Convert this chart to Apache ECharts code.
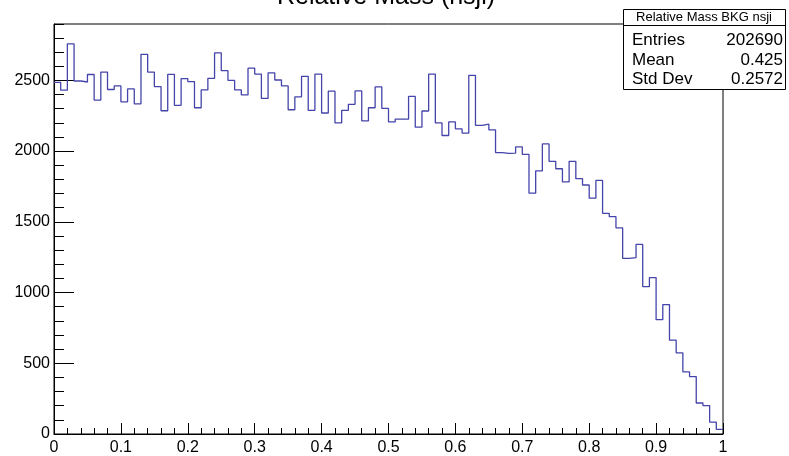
<!DOCTYPE html>
<html>
<head>
<meta charset="utf-8">
<script src="https://cdn.jsdelivr.net/npm/echarts@6/dist/echarts.min.js"></script>
<style>
  html, body { margin: 0; padding: 0; background: #fff; }
  #chart { width: 789px; height: 456px; }
</style>
</head>
<body>
<div id="chart"></div>
<script>
// Histogram: 100 bins over [0, 1]
const xMin = 0;
const xMax = 1;
const binWidth = 0.01;
const counts = [
  2485, 2430, 2758, 2495, 2488, 2541, 2360, 2558, 2435, 2460,
  2348, 2439, 2334, 2684, 2558, 2456, 2285, 2542, 2323, 2512,
  2491, 2306, 2432, 2514, 2694, 2568, 2500, 2432, 2397, 2586,
  2544, 2372, 2553, 2502, 2460, 2292, 2383, 2528, 2288, 2544,
  2269, 2423, 2199, 2288, 2330, 2425, 2213, 2306, 2453, 2301,
  2206, 2225, 2225, 2386, 2169, 2283, 2544, 2199, 2110, 2206,
  2157, 2127, 2535, 2182, 2190, 2150, 1989, 1984, 1986, 2029,
  1977, 1702, 1860, 2050, 1927, 1875, 1782, 1927, 1805, 1760,
  1667, 1792, 1560, 1536, 1457, 1242, 1246, 1340, 1041, 1106,
  808, 915, 663, 574, 439, 406, 219, 201, 84, 33
];
const yMax = 2898;
const xTickLabels = ['0', '0.1', '0.2', '0.3', '0.4', '0.5', '0.6', '0.7', '0.8', '0.9', '1'];

// Stats box contents
const histTitle = 'Relative Mass (nsji)';
const statsName = 'Relative Mass BKG nsji';
const statsRows = [
  ['Entries', '202690'],
  ['Mean', '0.425'],
  ['Std Dev', '0.2572']
];

// Step outline: one point per bin low edge, plus the closing upper edge
const stepData = counts.map((c, i) => [xMin + i * binWidth, c]);
stepData.push([xMax, counts[counts.length - 1]]);

const FONT = '"Liberation Sans", Arial, Helvetica, sans-serif';

const chart = echarts.init(document.getElementById('chart'), null, { renderer: 'canvas' });

const statsGraphics = [
  {
    type: 'rect', left: 623, top: 9, z: 100,
    shape: { width: 162, height: 80 },
    style: { fill: '#fff', stroke: '#000', lineWidth: 1 }
  },
  {
    type: 'line', z: 101,
    shape: { x1: 623, y1: 25.5, x2: 785, y2: 25.5 },
    style: { stroke: '#000', lineWidth: 1 }
  },
  {
    type: 'text', z: 101, x: 704, y: 17.5,
    style: { text: statsName, font: '13px ' + FONT, fill: '#000', textAlign: 'center', textVerticalAlign: 'middle' }
  }
];
const rowY = [40, 60, 79.5];
statsRows.forEach((r, i) => {
  statsGraphics.push({
    type: 'text', z: 101, x: 632, y: rowY[i],
    style: { text: r[0], font: '17px ' + FONT, fill: '#000', textAlign: 'left', textVerticalAlign: 'middle' }
  });
  statsGraphics.push({
    type: 'text', z: 101, x: 783, y: rowY[i],
    style: { text: r[1], font: '17px ' + FONT, fill: '#000', textAlign: 'right', textVerticalAlign: 'middle' }
  });
});

const option = {
  animation: false,
  backgroundColor: '#fff',
  grid: {
    left: 54, right: 66, top: 24, bottom: 18,
    show: true, borderColor: '#000', borderWidth: 1, backgroundColor: 'transparent'
  },
  xAxis: {
    type: 'value', min: xMin, max: xMax, interval: 0.1,
    axisLine: { show: true, lineStyle: { color: '#000', width: 1 } },
    axisTick: { show: true, inside: true, length: 11, lineStyle: { color: '#000' } },
    minorTick: { show: true, splitNumber: 5, length: 6, lineStyle: { color: '#000' } },
    axisLabel: {
      color: '#000', fontFamily: FONT, fontSize: 16, margin: 6,
      formatter: (v) => xTickLabels[Math.round(v * 10)]
    },
    splitLine: { show: false }
  },
  yAxis: [
    {
      type: 'value', min: 0, max: yMax, interval: 500, position: 'left',
      axisLine: { show: true, lineStyle: { color: '#000', width: 1 } },
      axisTick: { show: true, inside: true, length: 20, lineStyle: { color: '#000' } },
      axisLabel: {
        color: '#000', fontFamily: FONT, fontSize: 16, margin: 4, showMaxLabel: false,
        formatter: (v) => String(v)
      },
      splitLine: { show: false }
    },
    {
      type: 'value', min: 0, max: yMax, interval: 100, position: 'left',
      axisLine: { show: false },
      axisTick: { show: true, inside: true, length: 10, lineStyle: { color: '#000' } },
      axisLabel: { show: false },
      splitLine: { show: false }
    }
  ],
  graphic: [
    {
      type: 'text', x: 386, y: 10, z: 50,
      style: { text: histTitle, font: '25px ' + FONT, fill: '#000', textAlign: 'center', textVerticalAlign: 'bottom' }
    }
  ].concat(statsGraphics),
  series: [
    {
      type: 'line',
      data: stepData,
      step: 'end',
      showSymbol: false,
      symbol: 'none',
      yAxisIndex: 0,
      lineStyle: { color: '#4444aa', width: 1.3 },
      z: 5
    }
  ]
};

chart.setOption(option);
</script>
</body>
</html>
